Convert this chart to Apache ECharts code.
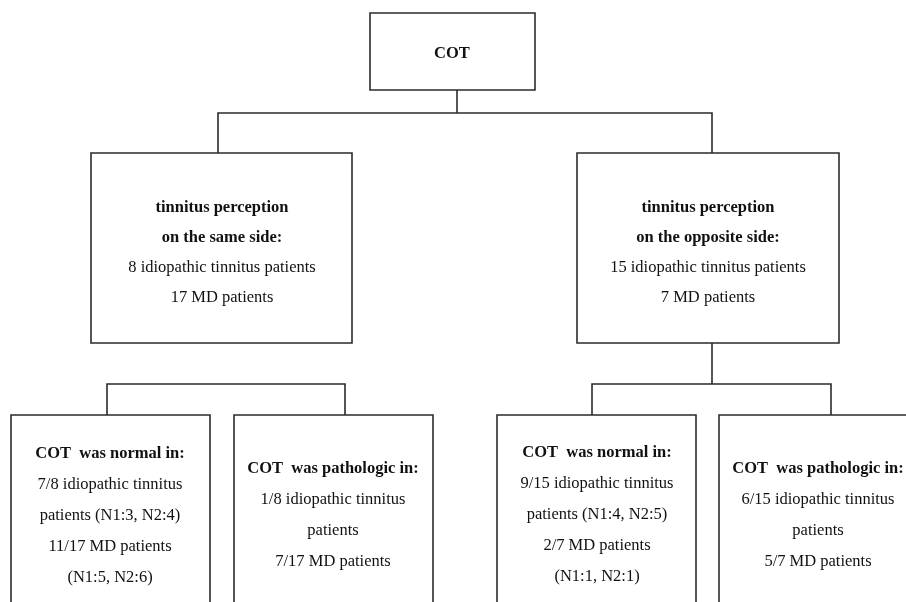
<!DOCTYPE html>
<html>
<head>
<meta charset="utf-8">
<script src="https://cdn.jsdelivr.net/npm/echarts@6/dist/echarts.min.js"></script>
<style>html,body{margin:0;padding:0;background:#fff}#chart{width:906px;height:602px}</style>
</head>
<body>
<div id="chart"></div>
<script>
// Node texts (bold heading lines, then regular lines)
const nodeNames = ['COT', 'same', 'opposite', 'sameNormal', 'samePath', 'oppNormal', 'oppPath'];
const nodeBold = [
  ['COT'],
  ['tinnitus perception', 'on the same side:'],
  ['tinnitus perception', 'on the opposite side:'],
  ['COT  was normal in:'],
  ['COT  was pathologic in:'],
  ['COT  was normal in:'],
  ['COT  was pathologic in:']
];
const nodePlain = [
  [],
  ['8 idiopathic tinnitus patients', '17 MD patients'],
  ['15 idiopathic tinnitus patients', '7 MD patients'],
  ['7/8 idiopathic tinnitus', 'patients (N1:3, N2:4)', '11/17 MD patients', '(N1:5, N2:6)'],
  ['1/8 idiopathic tinnitus', 'patients', '7/17 MD patients'],
  ['9/15 idiopathic tinnitus', 'patients (N1:4, N2:5)', '2/7 MD patients', '(N1:1, N2:1)'],
  ['6/15 idiopathic tinnitus', 'patients', '5/7 MD patients']
];
// Box extents in diagram units [left, top, right, bottom] and text centre
const boxLeft   = [370, 91, 577, 11, 234, 497, 719];
const boxTop    = [13, 153, 153, 415, 415, 415, 415];
const boxRight  = [535, 352, 839, 210, 433, 696, 925];
const boxBottom = [90, 343, 343, 640, 640, 640, 640];
const textCx    = [452, 222, 708, 110, 333, 597, 818];
const textCy    = [54, 253, 253, 516, 515, 515, 515];
const lineGap   = [30, 30, 30, 31, 31, 31, 31];

// Connector polylines (diagram units)
const connectors = [
  [[457, 90], [457, 113]],
  [[218, 153], [218, 113], [712, 113], [712, 153]],
  [[107, 415], [107, 384], [345, 384], [345, 415]],
  [[712, 343], [712, 384]],
  [[592, 415], [592, 384], [831, 384], [831, 415]]
];

const boxData = nodeNames.map((n, i) => ({
  name: n,
  value: [boxLeft[i], boxTop[i], boxRight[i], boxBottom[i], textCx[i], textCy[i], i]
}));

const FONT = '"Liberation Serif", "Times New Roman", serif';

const chart = echarts.init(document.getElementById('chart'), null, {renderer: 'canvas'});
chart.setOption({
  backgroundColor: '#ffffff',
  animation: false,
  grid: {left: 0, right: 0, top: 0, bottom: 0},
  xAxis: {type: 'value', min: 0, max: 906, show: false},
  yAxis: {type: 'value', min: 0, max: 602, inverse: true, show: false},
  series: [
    {
      type: 'lines',
      coordinateSystem: 'cartesian2d',
      polyline: true,
      silent: true,
      lineStyle: {color: '#2b2b2b', width: 1.6, opacity: 1},
      data: connectors.map(c => ({coords: c}))
    },
    {
      type: 'custom',
      clip: false,
      silent: true,
      data: boxData,
      renderItem: function (params, api) {
        const p0 = api.coord([api.value(0), api.value(1)]);
        const p1 = api.coord([api.value(2), api.value(3)]);
        const tc = api.coord([api.value(4), api.value(5)]);
        const idx = api.value(6);
        const lh = lineGap[idx];
        const lines = nodeBold[idx].map(t => '{b|' + t + '}')
          .concat(nodePlain[idx].map(t => '{r|' + t + '}'));
        return {
          type: 'group',
          children: [
            {
              type: 'rect',
              shape: {x: p0[0], y: p0[1], width: p1[0] - p0[0], height: p1[1] - p0[1]},
              style: {fill: '#ffffff', stroke: '#2b2b2b', lineWidth: 1.6}
            },
            {
              type: 'text',
              x: tc[0], y: tc[1],
              style: {
                text: lines.join('\n'),
                align: 'center',
                verticalAlign: 'middle',
                fill: '#111',
                rich: {
                  b: {fontFamily: FONT, fontSize: 16.5, fontWeight: 'bold', lineHeight: lh, fill: '#111', align: 'center'},
                  r: {fontFamily: FONT, fontSize: 16.5, lineHeight: lh, fill: '#111', align: 'center'}
                }
              }
            }
          ]
        };
      }
    }
  ]
});
</script>
</body>
</html>
